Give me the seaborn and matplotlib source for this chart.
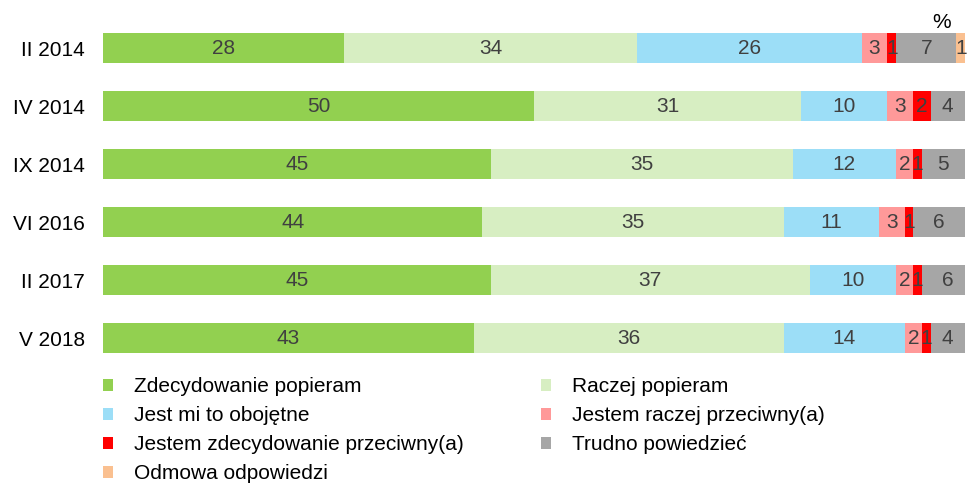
import numpy as np
import pandas as pd
import matplotlib
matplotlib.use("Agg")
import matplotlib.pyplot as plt
from matplotlib.patches import Patch
import seaborn as sns

periods = ["II 2014", "IV 2014", "IX 2014", "VI 2016", "II 2017", "V 2018"]
categories = ["Zdecydowanie popieram", "Raczej popieram", "Jest mi to obojętne",
              "Jestem raczej przeciwny(a)", "Jestem zdecydowanie przeciwny(a)",
              "Trudno powiedzieć", "Odmowa odpowiedzi"]
zdecydowanie_popieram = [28, 50, 45, 44, 45, 43]
raczej_popieram = [34, 31, 35, 35, 37, 36]
obojetne = [26, 10, 12, 11, 10, 14]
raczej_przeciwny = [3, 3, 2, 3, 2, 2]
zdecydowanie_przeciwny = [1, 2, 1, 1, 1, 1]
trudno_powiedziec = [7, 4, 5, 6, 6, 4]
odmowa = [1, 0, 0, 0, 0, 0]
colors = ["#92D050", "#D7EEC2", "#9CDEF7", "#FF9999", "#FF0000", "#A6A6A6", "#FAC090"]

series = [zdecydowanie_popieram, raczej_popieram, obojetne, raczej_przeciwny,
          zdecydowanie_przeciwny, trudno_powiedziec, odmowa]
vals = np.array(series, dtype=float)  # (7, 6)
cum = np.cumsum(vals, axis=0)

sns.set_theme(style="white")
plt.rcParams["font.family"] = ["Liberation Sans", "DejaVu Sans"]

fig = plt.figure(figsize=(9.68, 4.86), dpi=100)
ax = fig.add_axes([103 / 968, 1 - 367 / 486, 862 / 968, 348 / 486])

for i in reversed(range(len(categories))):
    df = pd.DataFrame({"period": periods, "value": cum[i]})
    sns.barplot(data=df, x="value", y="period", order=periods, color=colors[i],
                saturation=1, width=0.52, orient="h", ax=ax, linewidth=0,
                errorbar=None)

for i in range(len(categories)):
    for j in range(len(periods)):
        v = vals[i, j]
        if v <= 0:
            continue
        ax.text(cum[i, j] - v / 2, j, f"{int(v)}", ha="center", va="center",
                fontsize=15, color="#404040")

ax.set_xlim(0, 100)
ax.set_ylim(5.5, -0.5)
ax.set_xlabel("")
ax.set_ylabel("")
ax.set_xticks([])
for s in ax.spines.values():
    s.set_visible(False)
ax.tick_params(axis="y", length=0, pad=13, labelsize=15, labelcolor="#000000")

fig.text(942 / 968, 1 - 22 / 486, "%", fontsize=15, ha="center", va="center", color="#000000")

order = [0, 2, 4, 6, 1, 3, 5]
handles = [Patch(facecolor=colors[k], edgecolor="none", label=categories[k]) for k in order]
leg = fig.legend(handles=handles, ncol=2, loc="upper left",
                 bbox_to_anchor=(103 / 968, 1 - 377 / 486),
                 frameon=False, fontsize=15, handlelength=0.5, handleheight=0.5,
                 handletextpad=1.0, columnspacing=3.7, labelspacing=0.48,
                 borderaxespad=0, borderpad=0)
for t in leg.get_texts():
    t.set_color("#000000")

fig.savefig("out.png", dpi=100)
